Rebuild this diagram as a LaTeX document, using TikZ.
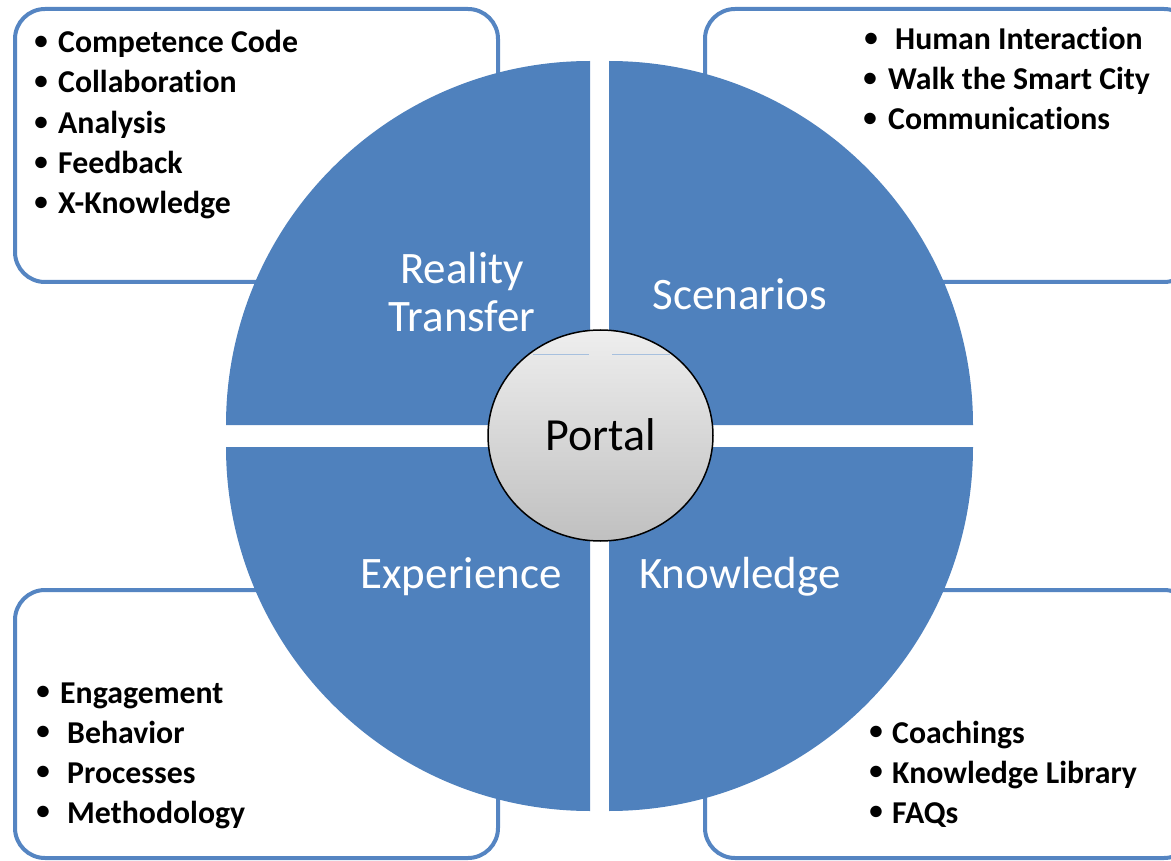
\documentclass[tikz,border=0pt]{standalone}
\usepackage{fontspec}
\setmainfont[Ligatures=CommonOff]{Carlito}
\usetikzlibrary{shapes.geometric}
\definecolor{qblue}{HTML}{4F81BD}
\definecolor{bblue}{HTML}{5585C2}
\definecolor{ptop}{HTML}{EEEEEE}
\definecolor{pbot}{HTML}{C0C0C0}
\tikzset{
  quad/.style={fill=qblue},
  listbox/.style={draw=bblue, line width=4pt, rounded corners=30pt, fill=white},
  qlabel/.style={text=white, font=\fontsize{45}{48}\selectfont, anchor=base, inner sep=0pt},
  bul/.style={font=\bfseries\fontsize{27}{30}\selectfont, anchor=center, inner sep=0pt},
  itm/.style={font=\bfseries\fontsize{31.8}{36}\selectfont, anchor=base west, inner sep=0pt},
}
\newcommand\bitem[5]{%
  \node[bul] (#5b) at (#1,#3-10.5) {•};
  \node[itm] (#5) at (#2,#3) {#4};}
\begin{document}
\begin{tikzpicture}[x=1pt,y=-1pt]
\useasboundingbox (0,0) rectangle (1171,861);
\clip (0,0) rectangle (1171,861);
% list boxes
\draw[listbox] (15,9) rectangle (498,282);
\draw[listbox] (705,9) rectangle (1194,282);
\draw[listbox] (15,590) rectangle (498,858);
\draw[listbox] (705,590) rectangle (1194,858);
% quadrants
\fill[quad] (590,425) -- ++(-364,0) arc[start angle=180,end angle=270,radius=364] -- cycle;
\fill[quad] (609,425) -- ++(0,-364) arc[start angle=270,end angle=360,radius=364] -- cycle;
\fill[quad] (609,447) -- ++(364,0) arc[start angle=0,end angle=90,radius=364] -- cycle;
\fill[quad] (590,447) -- ++(0,364) arc[start angle=90,end angle=180,radius=364] -- cycle;
% quadrant labels
\node[qlabel] (reality) at (462,284) {Reality};
\node[qlabel] (transfer) at (462,332) {Transfer};
\node[qlabel] (scen) at (740,310) {Scenarios};
\node[qlabel] (exp) at (461,588) {Experience};
\node[qlabel] (know) at (740,588) {Knowledge};
% portal
\draw[black, line width=1.5pt, top color=ptop, bottom color=pbot]
  (600.5,435.5) ellipse [x radius=112.5, y radius=105.5];
\draw[qblue!50, line width=0.6pt] (533,354) -- (589,354) (612,354) -- (670,354);
\node[font=\fontsize{46}{48}\selectfont, anchor=base, inner sep=0pt] (portal) at (601,450) {Portal};
% lists
\bitem{41}{58}{53}{Competence Code}{a1}
\bitem{41}{58}{93}{Collaboration}{a2}
\bitem{41}{58}{134}{Analysis}{a3}
\bitem{41}{58}{174}{Feedback}{a4}
\bitem{41}{58}{214}{X-Knowledge}{a5}
\bitem{871}{895}{50}{Human Interaction}{b1}
\bitem{870}{888}{90}{Walk the Smart City}{b2}
\bitem{870}{888}{130}{Communications}{b3}
\bitem{43}{60}{703}{Engagement}{c1}
\bitem{43}{67}{743}{Behavior}{c2}
\bitem{43}{67}{783}{Processes}{c3}
\bitem{43}{67}{823}{Methodology}{c4}
\bitem{876}{892}{743}{Coachings}{d1}
\bitem{876}{892}{783}{Knowledge Library}{d2}
\bitem{876}{892}{823}{FAQs}{d3}
\end{tikzpicture}
\end{document}
